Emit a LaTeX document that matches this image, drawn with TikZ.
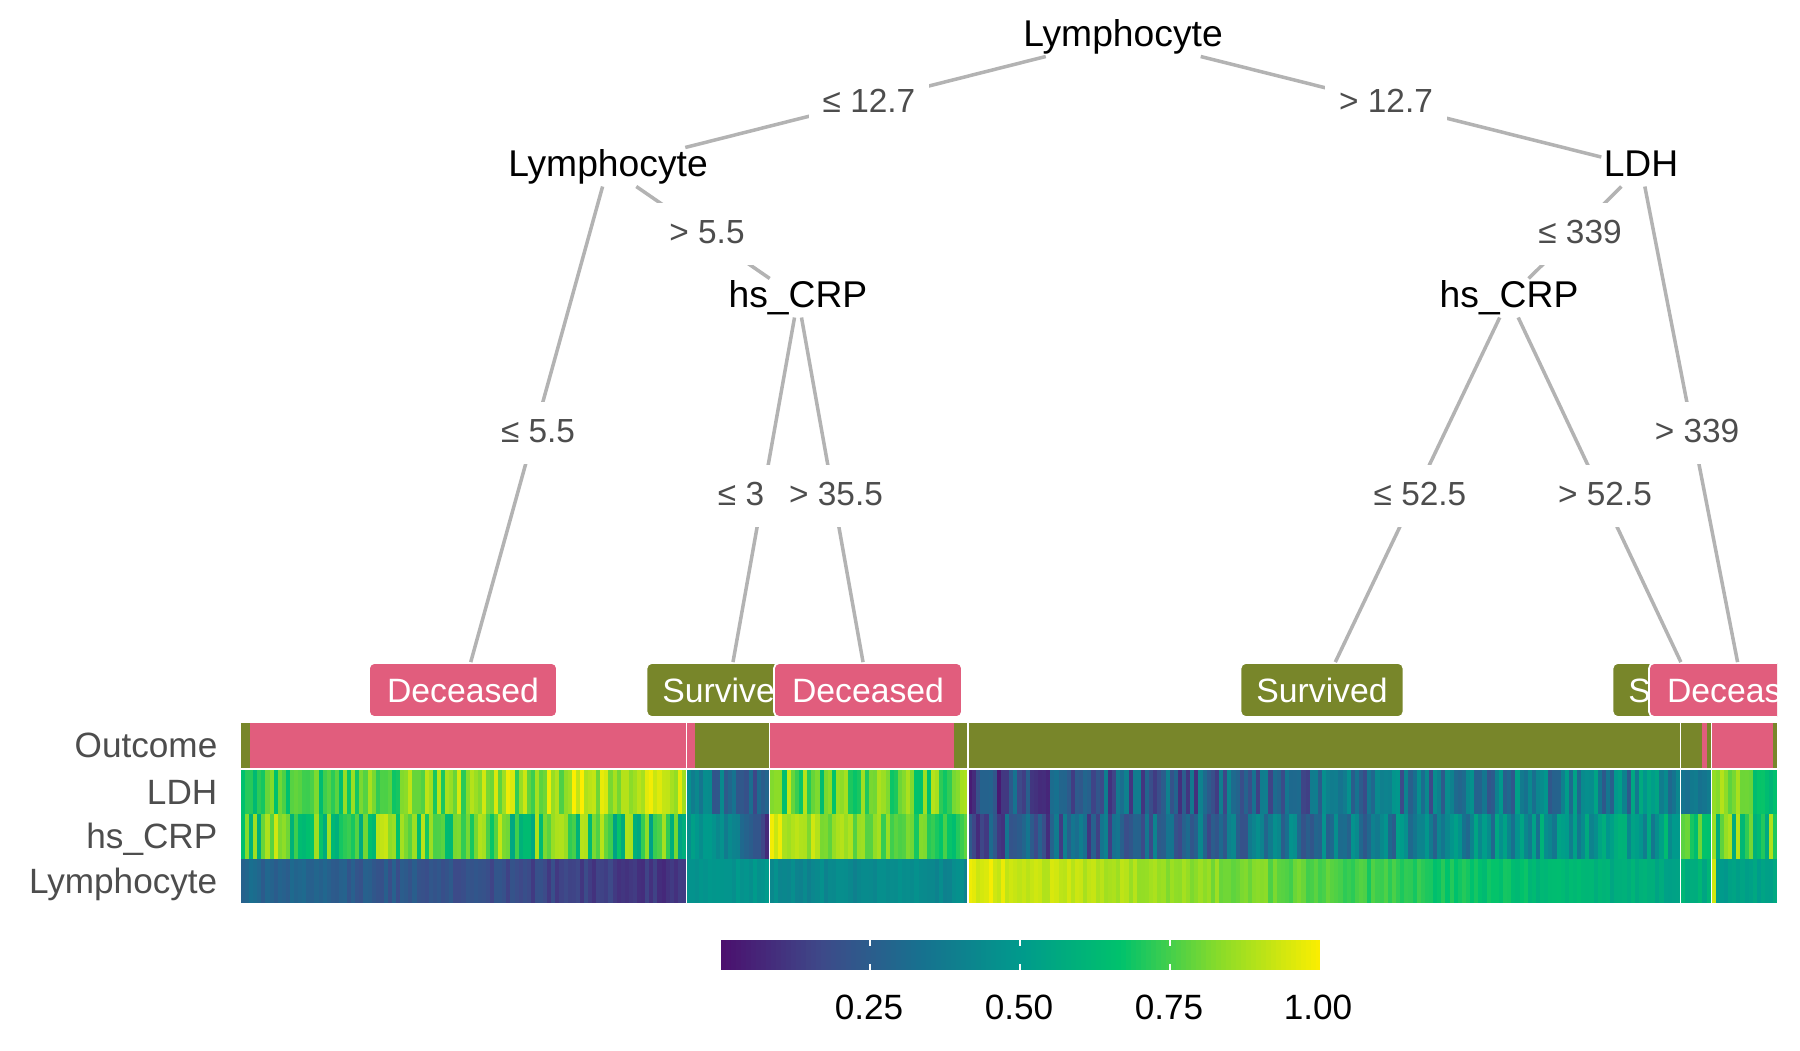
\documentclass[tikz,border=0pt]{standalone}
\usepackage{fontspec}
\setmainfont{Liberation Sans}
\usetikzlibrary{positioning}

\definecolor{deceased}{HTML}{E15D7D}
\definecolor{survived}{HTML}{78862A}
\definecolor{labelgray}{HTML}{4D4D4D}
\definecolor{edgegray}{HTML}{B3B3B3}
\definecolor{vir0}{HTML}{4B0F6E}
\definecolor{vir1}{HTML}{3E4989}
\definecolor{vir2}{HTML}{17718F}
\definecolor{vir3}{HTML}{009A8C}
\definecolor{vir4}{HTML}{00C26C}
\definecolor{vir5}{HTML}{8CDC28}
\definecolor{vir6}{HTML}{FDEE00}

% value in [0,1] -> colour cellc
\newcommand{\vircolor}[1]{%
  \pgfmathtruncatemacro{\vseg}{min(floor(#1*6),5)}%
  \pgfmathtruncatemacro{\vnext}{\vseg+1}%
  \pgfmathtruncatemacro{\vpct}{round((#1*6-\vseg)*100)}%
  \colorlet{cellc}{vir\vnext!\vpct!vir\vseg}}

% x0, x1, columns, top, bottom, value
\newcommand{\hmrow}[6]{%
  \pgfmathsetmacro{\hmW}{(#2-#1)/#3}%
  \foreach \i in {1,...,#3}{%
    \pgfmathsetmacro{\hmT}{(\i-1)/max(#3-1,1)}%
    \pgfmathsetmacro{\hmV}{max(0.02,min(1,#6))}%
    \vircolor{\hmV}%
    \fill[cellc] ({#1+(\i-1)*\hmW},#4) rectangle ({min(#1+\i*\hmW+0.8,#2)},#5);
  }}

\tikzset{
  split/.style={font=\fontsize{10.6}{12}\selectfont, text height=0.75em, text depth=0.22em, inner sep=0.5pt},
  elabel/.style={font=\fontsize{9.5}{11}\selectfont, text=labelgray, fill=white, text height=0.75em, text depth=0.22em, inner sep=4pt},
  leaf/.style={rounded corners=1.5pt, draw=white, line width=0.5pt, text=white, font=\fontsize{9.6}{11}\selectfont, minimum height=5.4mm, inner sep=0pt},
  dleaf/.style={leaf, fill=deceased, minimum width=18.8mm},
  sleaf/.style={leaf, fill=survived, minimum width=16.3mm},
  edge/.style={draw=edgegray, line width=1pt},
  rowlabel/.style={anchor=east, font=\fontsize{10}{12}\selectfont, text=labelgray, text height=0.72em, text depth=0.21em, inner sep=0pt},
  ticklabel/.style={font=\fontsize{10}{12}\selectfont, inner sep=0pt},
}

\begin{document}
\begin{tikzpicture}[x=0.1mm, y=-0.1mm]
  \useasboundingbox (0,0) rectangle (1800,1050);
  \pgfmathsetseed{7}

  % tree
  \node(root) [split] at (1123,37) {Lymphocyte};
  \node(lymph) [split] at (608,167) {Lymphocyte};
  \node(ldh) [split] at (1641,167) {LDH};
  \node(crpl) [split] at (798,298) {hs\_CRP};
  \node(crpr) [split] at (1509,298) {hs\_CRP};
  \begin{scope}
    \clip (0,0) rectangle (1777,1050);
    \node(leafa) [dleaf] at (463,690) {Deceased};
    \node(leafb) [sleaf] at (728,690) {Survived};
    \node(leafc) [dleaf] at (868,690) {Deceased};
    \node(leafd) [sleaf] at (1322,690) {Survived};
    \node(leafe) [sleaf] at (1694,690) {Survived};
    \node(leaff) [dleaf] at (1743,690) {Deceased};
  \end{scope}
  \draw[edge] (root) -- (lymph);
  \draw[edge] (root) -- (ldh);
  \draw[edge] (lymph) -- (leafa);
  \draw[edge] (lymph) -- (crpl);
  \draw[edge] (crpl) -- (leafb);
  \draw[edge] (crpl) -- (leafc);
  \draw[edge] (ldh) -- (crpr);
  \draw[edge] (ldh) -- (leaff);
  \draw[edge] (crpr) -- (leafd);
  \draw[edge] (crpr) -- (leafe);
  \node(ea) [elabel] at (869,103) {≤ 12.7};
  \node(eb) [elabel] at (1386,103) {> 12.7};
  \node(ec) [elabel] at (707,234) {> 5.5};
  \node(ed) [elabel] at (1580,234) {≤ 339};
  \node(ee) [elabel] at (538,433) {≤ 5.5};
  \node(ef) [elabel] at (1697,433) {> 339};
  \node(eg) [elabel] at (741,496) {≤ 3};
  \node(eh) [elabel] at (836,496) {> 35.5};
  \node(ei) [elabel] at (1420,496) {≤ 52.5};
  \node(ej) [elabel] at (1605,496) {> 52.5};

  % heatmap
  \node(rowout) [rowlabel] at (218,749) {Outcome};
  \node(rowldh) [rowlabel] at (218,796) {LDH};
  \node(rowcrp) [rowlabel] at (218,840) {hs\_CRP};
  \node(rowlym) [rowlabel] at (218,885) {Lymphocyte};

  \fill[survived] (241,723) rectangle (250,768);
  \fill[deceased] (250,723) rectangle (686,768);
  \fill[deceased] (687,723) rectangle (695,768);
  \fill[survived] (695,723) rectangle (769,768);
  \fill[deceased] (770,723) rectangle (954,768);
  \fill[survived] (954,723) rectangle (968,768);
  \fill[survived] (968,723) rectangle (1680,768);
  \fill[survived] (1681,723) rectangle (1702,768);
  \fill[deceased] (1702,723) rectangle (1707,768);
  \fill[survived] (1707,723) rectangle (1711,768);
  \fill[deceased] (1712,723) rectangle (1773,768);
  \fill[survived] (1773,723) rectangle (1777,768);

  \hmrow{241}{686}{109}{769}{814}{0.68+0.28*\hmT+0.13*rand}
  \hmrow{241}{686}{109}{814}{859}{0.76-0.05*\hmT+0.19*rand}
  \hmrow{241}{686}{109}{859}{903}{0.29-0.19*\hmT+0.04*rand}
  \hmrow{687}{769}{20}{769}{814}{0.42-0.25*\hmT+0.14*rand}
  \hmrow{687}{769}{20}{814}{859}{0.50-0.38*\hmT^2+0.05*rand}
  \hmrow{687}{769}{20}{859}{903}{0.48+0.03*rand}
  \hmrow{770}{968}{48}{769}{814}{0.78+0.15*rand}
  \hmrow{770}{968}{48}{814}{859}{0.92-0.22*\hmT+0.08*rand}
  \hmrow{770}{968}{48}{859}{903}{0.43+0.04*rand}
  \hmrow{968}{1680}{173}{769}{814}{0.18+0.24*\hmT+0.17*rand}
  \hmrow{968}{1680}{173}{814}{859}{0.20+0.32*\hmT+0.15*rand}
  \hmrow{968}{1680}{173}{859}{903}{0.97-0.42*\hmT+0.04*rand}
  \hmrow{1681}{1711}{7}{769}{814}{0.36+0.05*rand}
  \hmrow{1681}{1711}{7}{814}{859}{0.72+0.08*rand}
  \hmrow{1681}{1711}{7}{859}{903}{0.58+0.05*rand}
  \hmrow{1712}{1777}{16}{769}{814}{0.92-0.30*\hmT+0.08*rand}
  \hmrow{1712}{1777}{16}{814}{859}{0.72+0.20*rand}
  \hmrow{1712}{1777}{16}{859}{903}{0.52+0.04*rand+0.43*(\i==1)}

  \foreach \x in {686.5,769.5,968,1680.5,1711.5}
    \draw[white, line width=0.55pt] (\x,723) -- (\x,903);
  \draw[white, line width=0.55pt] (241,768.8) -- (1777,768.8);

  % colour bar
  \foreach \k in {0,...,119}{
    \pgfmathsetmacro{\cbV}{(\k+0.5)/120}
    \vircolor{\cbV}
    \fill[cellc] ({721+\k*5},940) rectangle ({min(721+\k*5+5.8,1320)},970);
  }
  \foreach \x in {870,1020,1170}{
    \draw[white, line width=0.4pt] (\x,940) -- (\x,946);
    \draw[white, line width=0.4pt] (\x,964) -- (\x,970);
  }
  \foreach \x/\lbl in {869/0.25,1019/0.50,1169/0.75,1318/1.00}
    \node(tick\x) [ticklabel] at (\x,1007) {\lbl};
\end{tikzpicture}
\end{document}
